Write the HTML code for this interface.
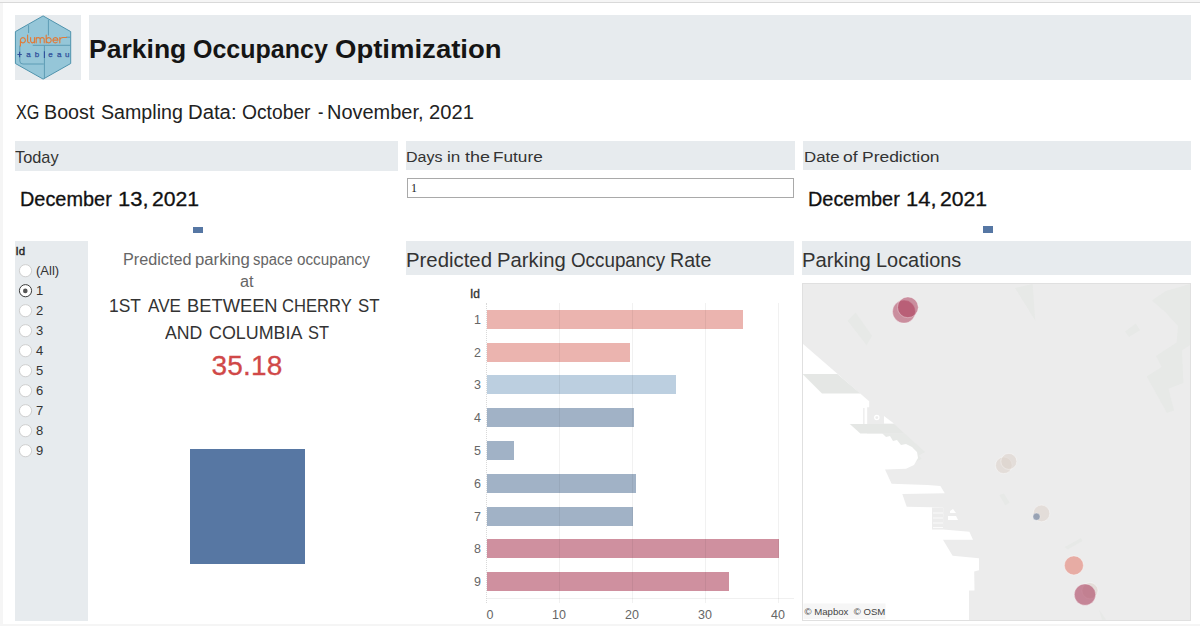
<!DOCTYPE html>
<html><head><meta charset="utf-8">
<style>
*{margin:0;padding:0;box-sizing:border-box}
html,body{width:1200px;height:626px;overflow:hidden;background:#f5f5f5;font-family:"Liberation Sans",sans-serif}
#page{position:absolute;left:3px;top:3px;width:1197px;height:621px;background:#fff}
#topline{position:absolute;left:0;top:2px;width:1200px;height:1px;background:#d9d9d9}
.a{position:absolute;white-space:nowrap;line-height:1}
.w{position:absolute;white-space:nowrap;line-height:1;transform-origin:0 0}
.band{position:absolute;background:#e7ebee}
.radio{position:absolute;left:19px;width:13px;height:13px;border-radius:50%;background:#fff;border:1px solid #c8c8c8}
.rl{position:absolute;left:36px;font-size:13px;color:#333;line-height:1}
.bar{position:absolute;left:487px;height:19px}
.yl{position:absolute;width:20px;left:461px;text-align:right;font-size:12.5px;color:#666;line-height:1}
.grid{position:absolute;top:303px;width:1px;height:300px;background:rgba(0,0,0,0.055);z-index:2}
.xl{position:absolute;top:608.5px;width:40px;text-align:center;font-size:12.5px;color:#666;line-height:1}
</style></head><body>
<div id="topline"></div>
<div id="page"></div>

<!-- header -->
<div class="band" style="left:15px;top:15px;width:66px;height:65px"></div>
<svg style="position:absolute;left:0;top:0" width="90" height="90" viewBox="0 0 90 90">
  <polygon points="43.1,15.9 70.7,31.6 70.7,63.5 43.1,79.1 15.4,63.5 15.4,31.6" fill="#95c6d8" stroke="#4f93ad" stroke-width="1"/>
  <g fill="none" stroke="#5d9cb5" stroke-width="1">
    <path d="M28.6,25.2 V33"/>
    <path d="M48.4,19.5 V35.5"/>
    <path d="M32.7,45.3 H70.5"/>
    <path d="M66,37.2 H70.5"/>
    <path d="M19.8,45.6 V61 Q19.8,64 23,64 H43.8"/>
    <path d="M44.4,45.6 V78.8"/>
  </g>
  <g fill="none" stroke="#e07b39" stroke-width="1.15" stroke-linecap="round">
    <path d="M20.4,46 V40.2 A2.5,2.65 0 1 1 20.4,40.3"/>
    <path d="M27.6,35 V41 Q27.6,42.8 29.4,42.8"/>
    <path d="M30.6,37.6 V40.6 A1.95,2.2 0 0 0 34.5,40.6 V37.6 M34.5,40.6 V42.8"/>
    <path d="M36.2,42.8 V37.6 M36.2,39.6 A2,2 0 0 1 40.2,39.6 V42.8 M40.2,39.6 A2,2 0 0 1 44.2,39.6 V42.8"/>
    <path d="M46.2,35 V42.8 M46.2,40.2 A2.5,2.65 0 1 1 46.2,40.3"/>
    <path d="M52.9,40.1 H57.9 A2.5,2.65 0 1 0 57.3,42"/>
    <path d="M59.8,42.8 V37.6 M59.8,39.8 Q60.3,37.5 63,37.5 H66.5"/>
  </g>
  <path d="M17.4,54.5 H21.8 M19.6,51.7 V57.3" stroke="#2f4f9a" stroke-width="1.2"/>
  <path d="M44.4,51.2 V57.9" stroke="#2f4f9a" stroke-width="1.1"/>
  <g font-family="Liberation Sans" font-size="8" fill="#2f4f9a" stroke="#2f4f9a" stroke-width="0.25">
    <text x="26.3" y="57.3">a</text>
    <text x="34.8" y="57.3">b</text>
    <text x="48.2" y="57.3">e</text>
    <text x="57.1" y="57.3">a</text>
    <text x="64.9" y="57.3">u</text>
  </g>
</svg>
<div class="band" style="left:89px;top:15px;width:1102px;height:65px"></div>
<div class="w" style="left:89.38px;top:36px;font-size:26px;color:#151515;font-weight:bold;transform:scaleX(1.0205)">Parking</div>
<div class="w" style="left:193.44px;top:36px;font-size:26px;color:#151515;font-weight:bold;transform:scaleX(0.9620)">Occupancy</div>
<div class="w" style="left:335.34px;top:36px;font-size:26px;color:#151515;font-weight:bold;transform:scaleX(1.0582)">Optimization</div>

<div class="w" style="left:15.60px;top:103px;font-size:19.5px;color:#222;transform:scaleX(0.8294)">XG</div>
<div class="w" style="left:43.99px;top:103px;font-size:19.5px;color:#222;transform:scaleX(1.0112)">Boost</div>
<div class="w" style="left:101.00px;top:103px;font-size:19.5px;color:#222;transform:scaleX(1.0068)">Sampling</div>
<div class="w" style="left:187.96px;top:103px;font-size:19.5px;color:#222;transform:scaleX(1.0410)">Data:</div>
<div class="w" style="left:242.00px;top:103px;font-size:19.5px;color:#222;transform:scaleX(0.9875)">October</div>
<div class="w" style="left:318.00px;top:103px;font-size:19.5px;color:#222;transform:scaleX(0.8333)">-</div>
<div class="w" style="left:326.98px;top:103px;font-size:19.5px;color:#222;transform:scaleX(1.0231)">November,</div>
<div class="w" style="left:429.00px;top:103px;font-size:19.5px;color:#222;transform:scaleX(1.0344)">2021</div>

<!-- section bands -->
<div class="band" style="left:15px;top:141px;width:383px;height:30px"></div>
<div class="band" style="left:406px;top:141px;width:389px;height:29px"></div>
<div class="band" style="left:803px;top:141px;width:388px;height:29px"></div>
<div class="w" style="left:15.40px;top:149.5px;font-size:15.7px;color:#333;transform:scaleX(1.0425)">Today</div>
<div class="w" style="left:405.97px;top:149.2px;font-size:15.5px;color:#333;transform:scaleX(1.0343)">Days</div>
<div class="w" style="left:446.65px;top:149.2px;font-size:15.5px;color:#333;transform:scaleX(1.1012)">in</div>
<div class="w" style="left:464.50px;top:149.2px;font-size:15.5px;color:#333;transform:scaleX(1.1588)">the</div>
<div class="w" style="left:493.39px;top:149.2px;font-size:15.5px;color:#333;transform:scaleX(1.1094)">Future</div>
<div class="w" style="left:803.61px;top:149.2px;font-size:15.5px;color:#333;transform:scaleX(1.0861)">Date</div>
<div class="w" style="left:842.90px;top:149.2px;font-size:15.5px;color:#333;transform:scaleX(1.1307)">of</div>
<div class="w" style="left:861.87px;top:149.2px;font-size:15.5px;color:#333;transform:scaleX(1.1255)">Prediction</div>

<div style="position:absolute;left:407px;top:178px;width:387px;height:20px;border:1px solid #a9a9a9;background:#fff"></div>
<div class="a" style="left:411px;top:182px;font-size:12px;font-family:'Liberation Serif',serif;color:#222">1</div>

<div class="w" style="left:19.51px;top:189.3px;font-size:20px;color:#111;-webkit-text-stroke:0.3px #111;transform:scaleX(0.9946)">December</div>
<div class="w" style="left:117.60px;top:189.3px;font-size:20px;color:#111;-webkit-text-stroke:0.3px #111;transform:scaleX(1.0972)">13,</div>
<div class="w" style="left:152.44px;top:189.3px;font-size:20px;color:#111;-webkit-text-stroke:0.3px #111;transform:scaleX(1.0584)">2021</div>
<div style="position:absolute;left:193px;top:227px;width:10px;height:6px;background:#5677a4"></div>
<div class="w" style="left:807.51px;top:188.8px;font-size:20px;color:#111;-webkit-text-stroke:0.3px #111;transform:scaleX(0.9946)">December</div>
<div class="w" style="left:905.60px;top:188.8px;font-size:20px;color:#111;-webkit-text-stroke:0.3px #111;transform:scaleX(1.0972)">14,</div>
<div class="w" style="left:940.44px;top:188.8px;font-size:20px;color:#111;-webkit-text-stroke:0.3px #111;transform:scaleX(1.0584)">2021</div>
<div style="position:absolute;left:983px;top:226px;width:10px;height:7px;background:#5677a4"></div>

<!-- Id panel -->
<div class="band" style="left:15px;top:241px;width:73px;height:380px"></div>
<div class="a" style="left:15.5px;top:245.5px;font-size:11.5px;color:#222;-webkit-text-stroke:0.35px #222">Id</div>
<svg style="position:absolute;left:0;top:0" width="40" height="470" viewBox="0 0 40 470"><circle cx="25.5" cy="270.7" r="6.1" fill="#fff" stroke="#cfcfcf" stroke-width="1"/><circle cx="25.5" cy="290.7" r="6.1" fill="#fff" stroke="#3a3a3a" stroke-width="1"/><circle cx="25.5" cy="310.7" r="6.1" fill="#fff" stroke="#cfcfcf" stroke-width="1"/><circle cx="25.5" cy="330.7" r="6.1" fill="#fff" stroke="#cfcfcf" stroke-width="1"/><circle cx="25.5" cy="350.7" r="6.1" fill="#fff" stroke="#cfcfcf" stroke-width="1"/><circle cx="25.5" cy="370.7" r="6.1" fill="#fff" stroke="#cfcfcf" stroke-width="1"/><circle cx="25.5" cy="390.7" r="6.1" fill="#fff" stroke="#cfcfcf" stroke-width="1"/><circle cx="25.5" cy="410.7" r="6.1" fill="#fff" stroke="#cfcfcf" stroke-width="1"/><circle cx="25.5" cy="430.7" r="6.1" fill="#fff" stroke="#cfcfcf" stroke-width="1"/><circle cx="25.5" cy="450.7" r="6.1" fill="#fff" stroke="#cfcfcf" stroke-width="1"/><circle cx="25.3" cy="290.9" r="2.3" fill="#555"/></svg>
<div class="rl" style="top:264px">(All)</div>
<div class="rl" style="top:284px">1</div>
<div class="rl" style="top:304px">2</div>
<div class="rl" style="top:324px">3</div>
<div class="rl" style="top:344px">4</div>
<div class="rl" style="top:364px">5</div>
<div class="rl" style="top:384px">6</div>
<div class="rl" style="top:404px">7</div>
<div class="rl" style="top:424px">8</div>
<div class="rl" style="top:444px">9</div>

<!-- middle text -->
<div class="w" style="left:123.46px;top:251.5px;font-size:15.6px;color:#666;transform:scaleX(1.0389)">Predicted</div>
<div class="w" style="left:194.93px;top:251.5px;font-size:15.6px;color:#666;transform:scaleX(1.0733)">parking</div>
<div class="w" style="left:253.40px;top:251.5px;font-size:15.6px;color:#666;transform:scaleX(0.9526)">space</div>
<div class="w" style="left:296.80px;top:251.5px;font-size:15.6px;color:#666;transform:scaleX(0.9765)">occupancy</div>
<div class="w" style="left:239.80px;top:273.5px;font-size:15.6px;color:#666;transform:scaleX(1.0459)">at</div>
<div class="w" style="left:109.12px;top:297.5px;font-size:17.8px;color:#333;transform:scaleX(0.9796)">1ST</div>
<div class="w" style="left:147.70px;top:297.5px;font-size:17.8px;color:#333;transform:scaleX(0.9622)">AVE</div>
<div class="w" style="left:186.77px;top:297.5px;font-size:17.8px;color:#333;transform:scaleX(1.0304)">BETWEEN</div>
<div class="w" style="left:282.30px;top:297.5px;font-size:17.8px;color:#333;transform:scaleX(0.9345)">CHERRY</div>
<div class="w" style="left:358.20px;top:297.5px;font-size:17.8px;color:#333;transform:scaleX(0.9493)">ST</div>
<div class="w" style="left:165.20px;top:324px;font-size:18px;color:#333;transform:scaleX(0.9815)">AND</div>
<div class="w" style="left:208.80px;top:324px;font-size:18px;color:#333;transform:scaleX(0.9935)">COLUMBIA</div>
<div class="w" style="left:308.00px;top:324px;font-size:18px;color:#333;transform:scaleX(0.9128)">ST</div>
<div class="a" style="left:97px;width:300px;text-align:center;top:352px;font-size:28px;color:#d04848;letter-spacing:0.2px;-webkit-text-stroke:0.3px #d04848">35.18</div>
<div style="position:absolute;left:190px;top:449px;width:115px;height:115px;background:#5777a3"></div>

<!-- bar chart -->
<div class="band" style="left:406px;top:241px;width:388px;height:34px"></div>
<div class="w" style="left:406.27px;top:251px;font-size:19.7px;color:#333;transform:scaleX(1.0342)">Predicted</div>
<div class="w" style="left:496.97px;top:251px;font-size:19.7px;color:#333;transform:scaleX(1.0293)">Parking</div>
<div class="w" style="left:570.50px;top:251px;font-size:19.7px;color:#333;transform:scaleX(0.9550)">Occupancy</div>
<div class="w" style="left:669.80px;top:251px;font-size:19.7px;color:#333;transform:scaleX(0.9966)">Rate</div>
<div class="a" style="left:470px;top:288px;font-size:12px;color:#333;-webkit-text-stroke:0.35px #333">Id</div>
<div class="grid" style="left:559px"></div>
<div class="grid" style="left:632px"></div>
<div class="grid" style="left:705px"></div>
<div class="grid" style="left:778px"></div>
<div style="position:absolute;left:486px;top:598px;width:308px;height:1px;background:#f0f0f0"></div>
<div style="position:absolute;left:486px;top:303px;width:0;height:300px;border-left:1px dotted #d9d9d9"></div>
<div class="bar" style="top:310px;width:256px;background:#ebb4af"></div>
<div class="bar" style="top:343px;width:143px;background:#ebb4af"></div>
<div class="bar" style="top:375px;width:189px;background:#bccfe0"></div>
<div class="bar" style="top:408px;width:147px;background:#a1b2c6"></div>
<div class="bar" style="top:441px;width:27px;background:#a1b2c6"></div>
<div class="bar" style="top:474px;width:149px;background:#a1b2c6"></div>
<div class="bar" style="top:507px;width:146px;background:#a1b2c6"></div>
<div class="bar" style="top:539px;width:292px;background:#cf909f"></div>
<div class="bar" style="top:572px;width:242px;background:#cf909f"></div>
<div class="yl" style="top:314px">1</div>
<div class="yl" style="top:347px">2</div>
<div class="yl" style="top:379px">3</div>
<div class="yl" style="top:412px">4</div>
<div class="yl" style="top:445px">5</div>
<div class="yl" style="top:478px">6</div>
<div class="yl" style="top:511px">7</div>
<div class="yl" style="top:543px">8</div>
<div class="yl" style="top:576px">9</div>
<div class="xl" style="left:470px">0</div>
<div class="xl" style="left:539px">10</div>
<div class="xl" style="left:612px">20</div>
<div class="xl" style="left:685px">30</div>
<div class="xl" style="left:758px">40</div>

<!-- map -->
<div class="band" style="left:802px;top:241px;width:389px;height:34px"></div>
<div class="w" style="left:802.48px;top:251px;font-size:19.9px;color:#333;transform:scaleX(1.0187)">Parking</div>
<div class="w" style="left:875.50px;top:251px;font-size:19.9px;color:#333;transform:scaleX(1.0012)">Locations</div>
<svg style="position:absolute;left:802px;top:283px" width="389" height="338" viewBox="802 283 389 338">
  <rect x="802.5" y="283.5" width="388" height="337" fill="#ececec"/>
  <g fill="#e7e9e7">
    <polygon points="847.6,320.8 855.7,312.6 872,335.7 866.6,345.2"/>
    <polygon points="1015,288 1032.6,284 1035.3,320.8"/>
    <polygon points="1125,331.6 1135.9,323.5 1140,330.3 1129,337"/>
    <polygon points="1152,300.4 1165.8,290.9 1190,284 1190,345 1182,350.6 1183.4,383 1168.5,388.7 1174,410.4 1167,413 1146.7,376.5 1161.7,367 1156,356 1176.6,342.5 1178,326 1165.8,312.6"/>
    <polygon points="999.3,495 1003.8,493.5 1009.7,502.4 1005.3,505.4"/>
    <polygon points="1064.7,547 1081,538 1082.6,541 1067.7,549.4"/>
    <polygon points="1099,609.4 1106.3,619.8 1101.9,619.8"/>
    <polygon points="891.6,440 900,437 921.8,458.7 915,462"/>
    <polygon points="882,433.5 904.5,433.5 925,452 918,456 905,447 893,442"/>
  </g>
  <polygon fill="#ffffff" points="802.5,343.4 869.2,401.2 869.2,407.2 867.2,407.2 867.2,433.5 882.4,433.5 886,437 890,436 893,441 897,440 901,445 906,444 912,447 917,452 918,458 914,465 906,468.8 885,469.5 891.6,483.8 927.5,484.9 940.4,486 944.8,493.2 902.3,494 906.7,506.8 943.3,507.6 943,529.4 969.4,531.8 973,539.8 943,539.8 952.6,555.8 979,558.2 979,570.2 974.2,571.4 974.5,590.6 969,590.6 969,620.5 802.5,620.5"/>
  <g fill="#e5e7e5">
    <polygon points="802.5,374.1 837.4,374.1 860.4,393.6 822,393.6"/>
    <polygon points="849.8,424 894,424 904.5,433.5 860.4,433.5"/>
  </g>
  <g fill="#ececec">
    <rect x="863.2" y="408" width="1.3" height="16"/>
    <polygon points="932,507.6 943.3,507.6 943,529.4 932,529.4"/>
  </g>
  <g stroke="#fff" stroke-width="0.8">
    <path d="M933,513 H943 M933,518 H943 M933,523 H943 M933,527.5 H943"/>
  </g>
  <g fill="#fff">
    <polygon points="950,511 953,509 956,513 950,513"/>
    <polygon points="884,416 893.9,423.5 884,423.5"/>
    <polygon points="948,516 956,516 958,520 948,520"/>
    <circle cx="876.8" cy="417.6" r="2.1" fill="none" stroke="#fff" stroke-width="1.3"/>
  </g>
  <rect x="802.5" y="283.5" width="388" height="337" fill="none" stroke="#e0e0e0" stroke-width="1" shape-rendering="crispEdges"/>
  <g stroke="#fff" stroke-width="0.6" stroke-opacity="0.6">
    <circle cx="1003.8" cy="465.3" r="8.3" fill="#ddd2cb" fill-opacity="0.55"/>
    <circle cx="1008.8" cy="461.4" r="8" fill="#ddd2cb" fill-opacity="0.55"/>
    <circle cx="1041.5" cy="513.4" r="8.3" fill="#ddd2cb" fill-opacity="0.55"/>
    <circle cx="1036.5" cy="516.7" r="3.6" fill="#7f8ea6" fill-opacity="0.75"/>
    <circle cx="1073.9" cy="565.4" r="9.5" fill="#e6a198" fill-opacity="0.85"/>
    <circle cx="1090" cy="590.7" r="8" fill="#ddd2cb" fill-opacity="0.55"/>
    <circle cx="1085" cy="594.6" r="10.7" fill="#b04f6a" fill-opacity="0.65"/>
    <circle cx="904" cy="311.6" r="11.5" fill="#a7304f" fill-opacity="0.5"/>
    <circle cx="907.9" cy="307.3" r="10.4" fill="#a7304f" fill-opacity="0.5"/>
  </g>
  <rect x="803.5" y="603.5" width="82" height="15.5" fill="#f0f0f0" fill-opacity="0.6"/>
</svg>
<div class="a" style="left:804.5px;top:607px;font-size:9.6px;color:#444">© Mapbox &nbsp;© OSM</div>
</body></html>
